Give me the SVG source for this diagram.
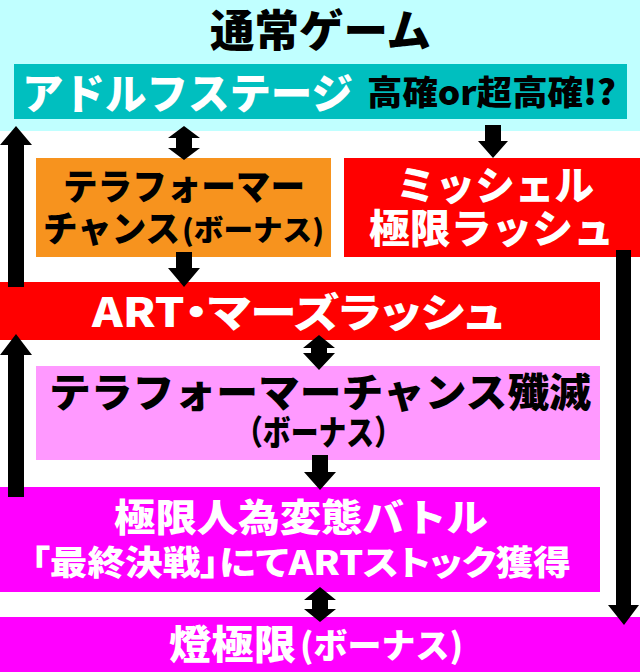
<svg xmlns="http://www.w3.org/2000/svg" width="640" height="672" viewBox="0 0 640 672">
<style>
text{font-family:"Noto Sans CJK JP","Noto Sans",sans-serif;font-weight:900}
.w{fill:#ffffff}
.k{fill:#000000}
.c{text-anchor:middle}
.p{font-feature-settings:"palt"}
.arr{fill:#000000}
</style>
<rect width="640" height="672" fill="#ffffff"/>
<g id="normal">
<rect x="0" y="0" width="640" height="131" fill="#c0ffff"/>
<text class="k c" x="320.5" y="47" font-size="44" textLength="221" lengthAdjust="spacingAndGlyphs">通常ゲーム</text>
</g>
<g id="adolf">
<rect x="14" y="64" width="613" height="55" fill="#00bfbf"/>
<text class="w" x="22" y="109" font-size="42" textLength="331" lengthAdjust="spacingAndGlyphs">アドルフステージ</text>
<text class="k" x="367" y="105" font-size="34" textLength="249" lengthAdjust="spacingAndGlyphs">高確or超高確!?</text>
</g>
<g id="terra-chance">
<rect x="36" y="158" width="295" height="99" fill="#f7931e"/>
<text class="k" x="63" y="200" font-size="36" textLength="242" lengthAdjust="spacingAndGlyphs">テラフォーマー</text>
<text class="k" x="43" y="242" font-size="36" textLength="137" lengthAdjust="spacingAndGlyphs">チャンス</text>
<text class="k" x="182" y="241" font-size="29" textLength="142" lengthAdjust="spacingAndGlyphs">(ボーナス)</text>
</g>
<g id="michelle">
<rect x="344" y="158" width="296" height="99" fill="#ff0000"/>
<text class="w" x="396" y="200" font-size="40" textLength="198" lengthAdjust="spacingAndGlyphs">ミッシェル</text>
<text class="w" x="369" y="243" font-size="40" textLength="245" lengthAdjust="spacingAndGlyphs">極限ラッシュ</text>
</g>
<g id="art">
<rect x="0" y="282" width="600" height="58" fill="#ff0000"/>
<text class="w p" x="92" y="327" font-size="40" textLength="412" lengthAdjust="spacingAndGlyphs">ART・マーズラッシュ</text>
</g>
<g id="annihilation">
<rect x="36" y="366" width="564" height="94" fill="#ff99ff"/>
<text class="k" x="49" y="407" font-size="40" textLength="542" lengthAdjust="spacingAndGlyphs">テラフォーマーチャンス殲滅</text>
<text class="k" x="235" y="445" font-size="34" textLength="167" lengthAdjust="spacingAndGlyphs">（ボーナス）</text>
</g>
<g id="battle">
<rect x="0" y="487" width="600" height="105" fill="#ff00ff"/>
<text class="w" x="114" y="531" font-size="38" textLength="374" lengthAdjust="spacingAndGlyphs">極限人為変態バトル</text>
<text class="w p" x="31" y="575" font-size="34" textLength="540" lengthAdjust="spacingAndGlyphs">「最終決戦」にてARTストック獲得</text>
</g>
<g id="tougen">
<rect x="0" y="617" width="640" height="55" fill="#ff00ff"/>
<text class="w" x="169" y="659" font-size="40" textLength="127" lengthAdjust="spacingAndGlyphs">燈極限</text>
<text class="w" x="300" y="658" font-size="34" textLength="163" lengthAdjust="spacingAndGlyphs">(ボーナス)</text>
</g>
<g id="connectors">
<polygon class="arr" points="184,126 200,138 192,138 192,148 200,148 184,160 168,148 176,148 176,138 168,138"/>
<polygon class="arr" points="485,125 501,125 501,141 508,141 493,158 478,141 485,141"/>
<polygon class="arr" points="176,252 192,252 192,268 200,268 184,287 168,268 176,268"/>
<polygon class="arr" points="319,335 335,348 327,348 327,353 335,353 319,370 303,353 311,353 311,348 303,348"/>
<polygon class="arr" points="312,455 328,455 328,472 336,472 320,490 304,472 312,472"/>
<polygon class="arr" points="320,587 336,600 328,600 328,609 336,609 320,622 304,609 312,609 312,600 304,600"/>
<polygon class="arr" points="16,126 32,145 24,145 24,287 8,287 8,145 0,145"/>
<polygon class="arr" points="16,334 32,355 24,355 24,497 8,497 8,355 0,355"/>
<polygon class="arr" points="616,250 631,250 631,605 639,605 624,625 608,605 616,605"/>
</g>
</svg>
